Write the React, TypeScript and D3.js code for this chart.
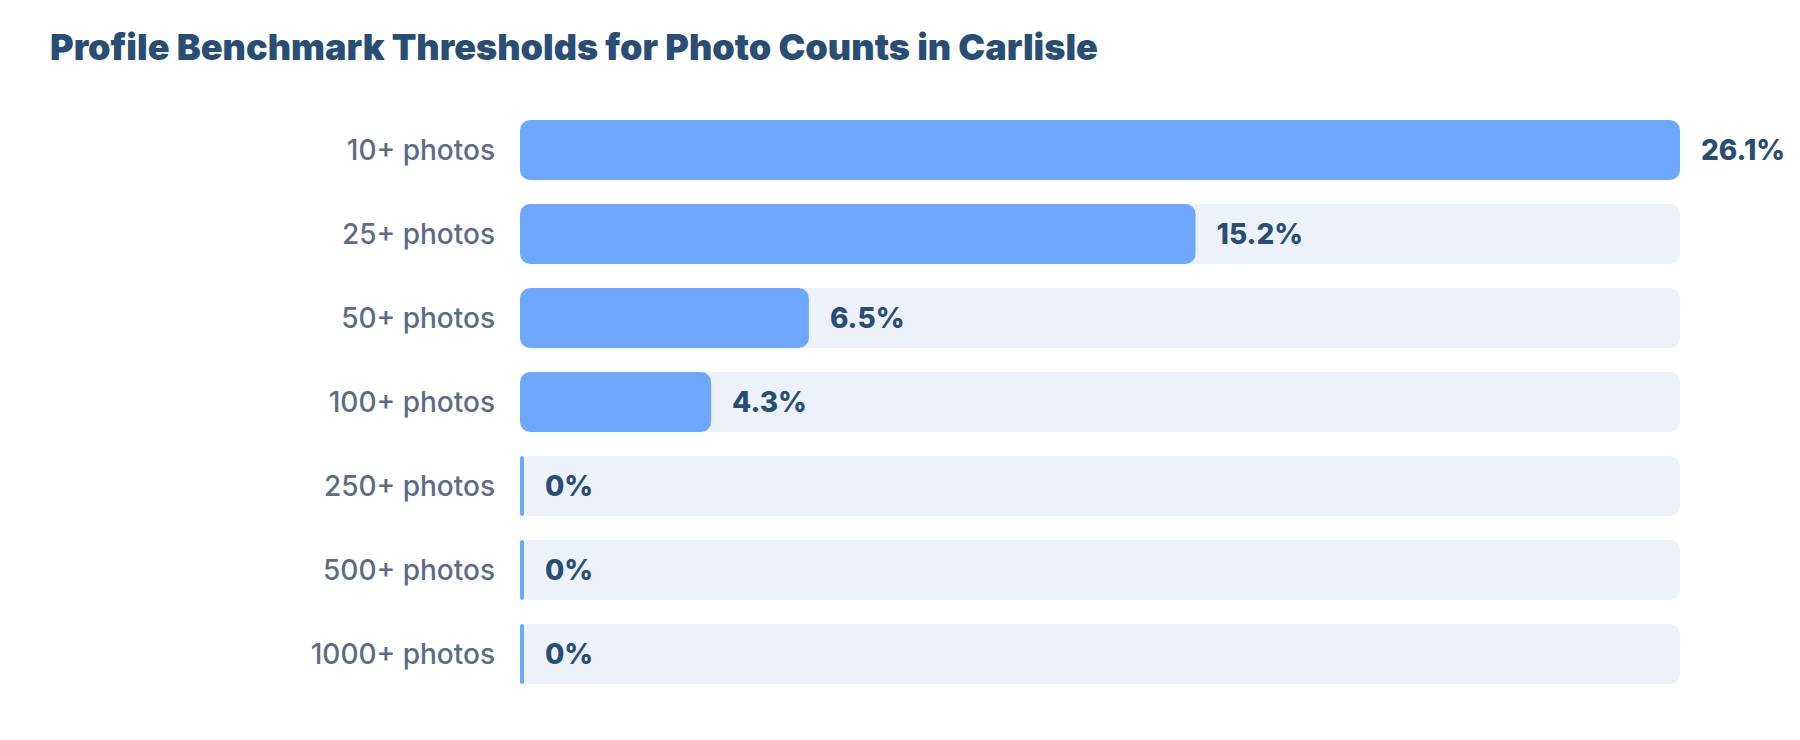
import React, { useRef, useEffect } from "react";
import * as d3 from "d3";

const categories = [
  "10+ photos",
  "25+ photos",
  "50+ photos",
  "100+ photos",
  "250+ photos",
  "500+ photos",
  "1000+ photos",
];
const shares = [26.1, 15.2, 6.5, 4.3, 0, 0, 0];
const valueLabels = ["26.1%", "15.2%", "6.5%", "4.3%", "0%", "0%", "0%"];

const title = "Profile Benchmark Thresholds for Photo Counts in Carlisle";

export default function App() {
  const ref = useRef<SVGSVGElement | null>(null);
  const width = 1800, height = 740;
  const margin = { top: 108, right: 120, bottom: 44, left: 520 };

  useEffect(() => {
    const svg = d3.select(ref.current);
    svg.selectAll("*").remove();

    const x = d3.scaleLinear()
      .domain([0, d3.max(shares) as number])
      .range([margin.left, width - margin.right]);
    const y = d3.scaleBand()
      .domain(categories)
      .range([margin.top, margin.top + categories.length * 84])
      .paddingInner(2 / 7)
      .paddingOuter(1 / 7);

    const font = "Inter, 'Noto Sans', sans-serif";
    const barW = (i: number) => Math.max(x(shares[i]) - x(0), 4);

    // title
    svg.append("text")
      .attr("x", 50)
      .attr("y", 60)
      .attr("font-family", font)
      .attr("font-size", 36)
      .attr("font-weight", 900)
      .attr("fill", "#284e75")
      .text(title);

    const rows = svg.selectAll(".row")
      .data(categories)
      .join("g")
      .attr("class", "row");

    // background track
    rows.append("rect")
      .attr("x", x(0))
      .attr("y", d => y(d) as number)
      .attr("width", x.range()[1] - x(0))
      .attr("height", y.bandwidth())
      .attr("rx", 10)
      .attr("fill", "#edf2fa");

    // value bar
    rows.append("rect")
      .attr("x", x(0))
      .attr("y", d => y(d) as number)
      .attr("width", (d, i) => barW(i))
      .attr("height", y.bandwidth())
      .attr("rx", (d, i) => Math.min(10, barW(i) / 2))
      .attr("fill", "#6ea8fe");

    // category labels
    rows.append("text")
      .attr("x", x(0) - 25)
      .attr("y", d => (y(d) as number) + y.bandwidth() / 2)
      .attr("dy", "0.35em")
      .attr("text-anchor", "end")
      .attr("font-family", font)
      .attr("font-size", 28)
      .attr("font-weight", 500)
      .attr("fill", "#5b6d85")
      .text(d => d);

    // value labels
    rows.append("text")
      .attr("x", (d, i) => x(0) + barW(i) + 21)
      .attr("y", d => (y(d) as number) + y.bandwidth() / 2)
      .attr("dy", "0.35em")
      .attr("font-family", font)
      .attr("font-size", 28)
      .attr("font-weight", 800)
      .attr("fill", "#284e75")
      .text((d, i) => valueLabels[i]);
  }, []);

  return (
    <div style={{ position: "absolute", left: 0, top: 0, background: "#fff" }}>
      <svg ref={ref} width={width} height={height} style={{ display: "block" }} />
    </div>
  );
}
